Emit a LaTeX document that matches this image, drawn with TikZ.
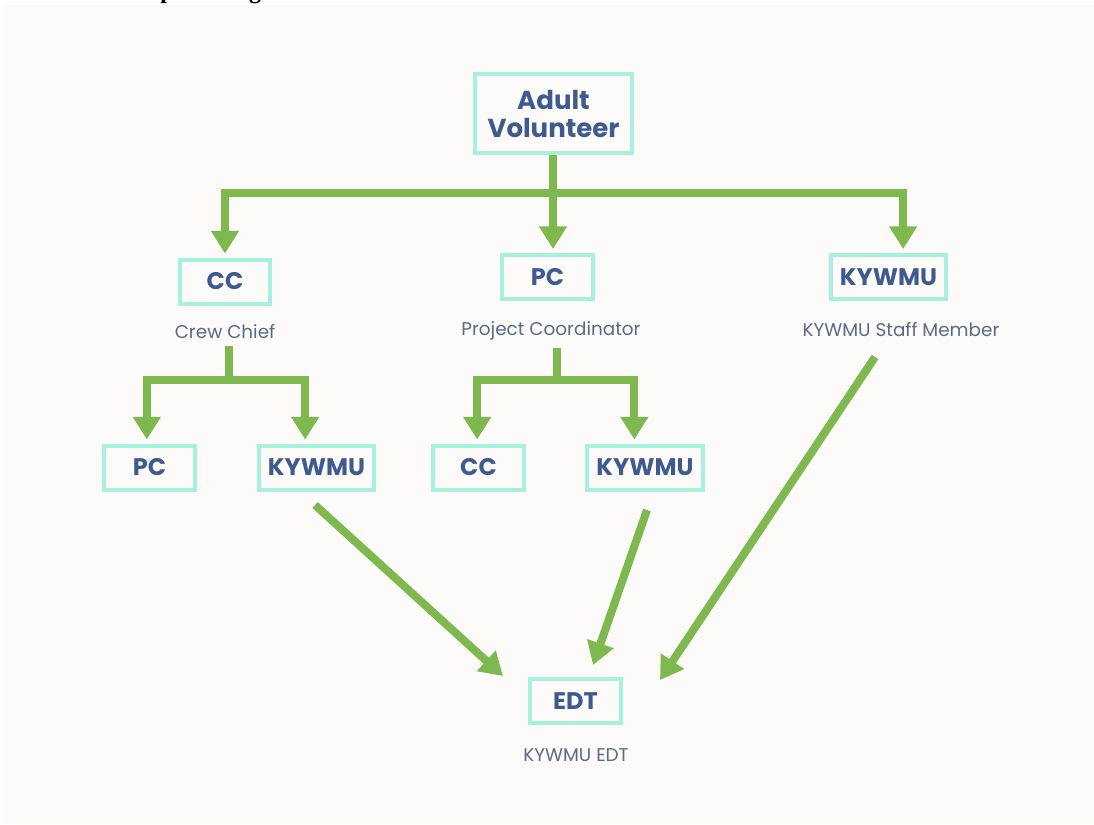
\documentclass[tikz,border=0pt]{standalone}
\usepackage{fontspec}
\setmainfont{Poppins}
\newfontfamily\headfont{Liberation Serif}
\usetikzlibrary{arrows.meta,calc}
\definecolor{bgc}{HTML}{FCFBF9}
\definecolor{grn}{HTML}{7DB94E}
\definecolor{boxc}{HTML}{A8F0DE}
\definecolor{txt}{HTML}{3E5A8E}
\definecolor{lbl}{HTML}{5A6A86}
\begin{document}
\begin{tikzpicture}[x=0.75pt,y=-0.75pt,
  box/.style={draw=boxc,line width=3pt,text=txt,font=\fontsize{18}{20}\selectfont\bfseries,
    minimum height=33pt,inner sep=0pt,align=center},
  lab/.style={text=lbl,font=\fontsize{13.8}{16}\selectfont,inner sep=0pt,anchor=base},
  arr/.style={draw=grn,line width=6pt,-{Triangle[width=20pt,length=17pt]},line join=miter,shorten >=3pt},
  head/.style={font=\headfont\bfseries\fontsize{18}{20}\selectfont,anchor=base,inner sep=0pt}
]
\useasboundingbox (0,0) rectangle (1094,824);
\fill[bgc] (5,5) rectangle (1094,824);
\node[head] (h1) at (167,-1) {p};
\node[head] (h2) at (255,-1) {g};

\node[box,minimum width=118pt,minimum height=59pt,font=\fontsize{19.5}{21}\selectfont\bfseries] (av) at (553.5,113.5) {Adult\\Volunteer};
\node[box,minimum width=67.5pt] (cc) at (225,281.5) {CC};
\node[box,minimum width=68pt] (pc) at (547.5,277) {PC};
\node[box,minimum width=86pt] (ky) at (888.5,277) {KYWMU};
\node[lab] (ccl) at (225,338) {Crew Chief};
\node[lab] (pcl) at (551,335) {Project Coordinator};
\node[lab] (kyl) at (901,336) {KYWMU Staff Member};
\node[box,minimum width=68pt] (pc2) at (149.5,467.5) {PC};
\node[box,minimum width=86pt] (ky2) at (316.5,467.5) {KYWMU};
\node[box,minimum width=68pt] (cc3) at (478.5,467.5) {CC};
\node[box,minimum width=87pt] (ky3) at (645,467.5) {KYWMU};
\node[box,minimum width=68pt] (edt) at (575.5,701) {EDT};
\node[lab] (edtl) at (576,761) {KYWMU EDT};

\coordinate (j1) at (553,193);
\draw[arr] (j1 |- av.south) -- (j1) -| (cc.north);
\draw[arr] (j1) -- (j1 |- pc.north);
\draw[arr] (j1) -| ([xshift=11pt]ky.north);

\coordinate (j2) at (229,380);
\draw[arr,shorten <=6pt] (j2 |- ccl.south) -- (j2) -| ([xshift=-2pt]pc2.north);
\draw[arr] (j2) -| ([xshift=-8.5pt]ky2.north);

\coordinate (j3) at (557,380);
\draw[arr,shorten <=6pt] (j3 |- pcl.south) -- (j3) -| ([xshift=-1pt]cc3.north);
\draw[arr] (j3) -| ([xshift=-8pt]ky3.north);

\coordinate (s1) at (315,505);
\coordinate (t1) at (503,676);
\coordinate (s2) at (647,510);
\coordinate (t2) at (593,665);
\coordinate (s3) at (875,357);
\coordinate (t3) at (660,680);
\draw[arr,shorten >=0pt] (s1) -- (t1);
\draw[arr,shorten >=0pt] (s2) -- (t2);
\draw[arr,shorten >=0pt] (s3) -- (t3);
\end{tikzpicture}
\end{document}
